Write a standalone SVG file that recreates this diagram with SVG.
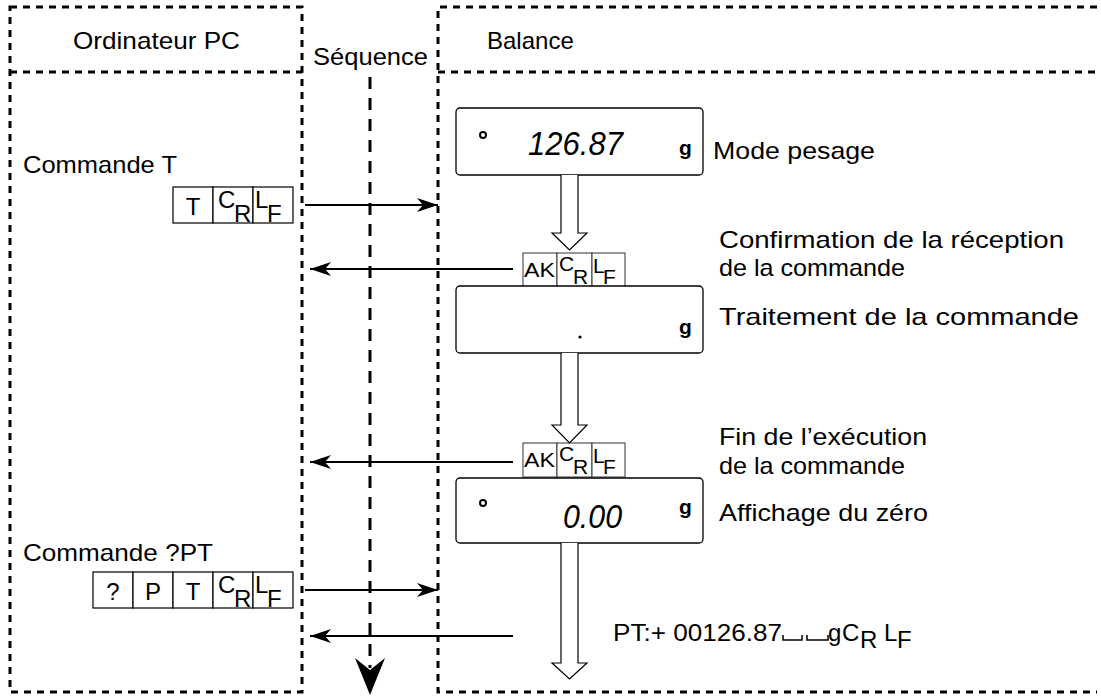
<svg xmlns="http://www.w3.org/2000/svg" width="1101" height="697" viewBox="0 0 1101 697">
<style>
.lbl{font-family:"Liberation Sans",Arial,sans-serif;font-size:24px;fill:#000}
.cell{fill:#fff;stroke:#000;stroke-width:1.2}
.cellg{fill:#fff;stroke:#333;stroke-width:1}
.ct{font-family:"Liberation Sans",Arial,sans-serif;font-size:24px;fill:#000}
.ca{font-family:"Liberation Sans",Arial,sans-serif;font-size:21px;fill:#000}
.frame{fill:none;stroke:#000;stroke-width:3;stroke-dasharray:7 6}
.seq{fill:none;stroke:#000;stroke-width:3;stroke-dasharray:12 9}
.disp{fill:#fff;stroke:#000;stroke-width:1.3}
.seg{font-family:"Liberation Sans Narrow","Liberation Sans",sans-serif;font-style:italic;font-size:34px;fill:#000}
.gl{font-family:"Liberation Sans",Arial,sans-serif;font-weight:bold;font-size:21px;fill:#000}
.hol{fill:#fff;stroke:#000;stroke-width:1.2}
.conn{stroke:#000;stroke-width:2;fill:none}
</style>
<defs>
<marker id="ah" markerUnits="userSpaceOnUse" markerWidth="22" markerHeight="16" refX="21" refY="7" orient="auto" viewBox="0 0 22 14">
<path d="M0,0 L21,7 L0,14 L6,7 Z" fill="#000"/>
</marker>
</defs>

<g id="pc-lane">
<path class="frame" d="M10,7 H302 V692 H10 Z"/>
<line class="frame" x1="10" y1="72" x2="302" y2="72"/>
<text class="lbl" x="73" y="49" textLength="167" lengthAdjust="spacingAndGlyphs">Ordinateur PC</text>
</g>

<g id="balance-lane">
<path class="frame" d="M1097,7 H438 V692 H1097"/>
<line class="frame" x1="438" y1="72" x2="1097" y2="72"/>
<text class="lbl" x="487" y="49">Balance</text>
</g>

<g id="sequence">
<text class="lbl" x="313" y="65" textLength="115" lengthAdjust="spacingAndGlyphs">Séquence</text>
<line class="seq" x1="370" y1="77" x2="370" y2="668"/>
<path d="M355,658 L370,695 L385,658 L370,670 Z" fill="#000"/>
</g>

<g id="cmd-t">
<text class="lbl" x="23" y="173" textLength="154" lengthAdjust="spacingAndGlyphs">Commande T</text>
<rect class="cell" x="173" y="187" width="40" height="36"/>
<rect class="cell" x="213" y="187" width="40" height="36"/>
<rect class="cell" x="253" y="187" width="40" height="36"/>
<text class="lbl" x="193" y="215" text-anchor="middle">T</text>
<text class="ct" x="218" y="208">C</text><text class="ct" x="234" y="222">R</text>
<text class="ct" x="255" y="208">L</text><text class="ct" x="267" y="222">F</text>
</g>

<g id="cmd-pt">
<text class="lbl" x="23" y="561" textLength="190" lengthAdjust="spacingAndGlyphs">Commande ?PT</text>
<rect class="cell" x="93" y="572" width="40" height="36"/>
<rect class="cell" x="133" y="572" width="40" height="36"/>
<rect class="cell" x="173" y="572" width="40" height="36"/>
<rect class="cell" x="213" y="572" width="40" height="36"/>
<rect class="cell" x="253" y="572" width="40" height="36"/>
<text class="lbl" x="113" y="600" text-anchor="middle">?</text>
<text class="lbl" x="153" y="600" text-anchor="middle">P</text>
<text class="lbl" x="193" y="600" text-anchor="middle">T</text>
<text class="ct" x="218" y="593">C</text><text class="ct" x="234" y="607">R</text>
<text class="ct" x="255" y="593">L</text><text class="ct" x="267" y="607">F</text>
</g>

<g id="display-1">
<rect class="disp" x="456" y="108" width="247" height="67" rx="4"/>
<circle cx="483" cy="135" r="3" fill="none" stroke="#000" stroke-width="2"/>
<text class="seg" x="528" y="155" textLength="95" lengthAdjust="spacingAndGlyphs">126.87</text>
<text class="gl" x="679" y="155">g</text>
<text class="lbl" x="713" y="159" textLength="162" lengthAdjust="spacingAndGlyphs">Mode pesage</text>
</g>

<g id="ack-1">
<rect class="cellg" x="523" y="253" width="34" height="34"/>
<rect class="cellg" x="557" y="253" width="35" height="34"/>
<rect class="cellg" x="592" y="253" width="33" height="34"/>
<text class="ca" x="524" y="277" textLength="31" lengthAdjust="spacingAndGlyphs">AK</text>
<text class="ca" x="559" y="271">C</text><text class="ca" x="573" y="284">R</text>
<text class="ca" x="593" y="273">L</text><text class="ca" x="603" y="284">F</text>
<text class="lbl" x="719" y="248" textLength="345" lengthAdjust="spacingAndGlyphs">Confirmation de la réception</text>
<text class="lbl" x="719" y="276" textLength="186" lengthAdjust="spacingAndGlyphs">de la commande</text>
</g>

<g id="display-2">
<rect class="disp" x="456" y="286" width="247" height="67" rx="4"/>
<circle cx="580" cy="337" r="1.6" fill="#000"/>
<text class="gl" x="679" y="334">g</text>
<text class="lbl" x="719" y="325" textLength="360" lengthAdjust="spacingAndGlyphs">Traitement de la commande</text>
</g>

<g id="ack-2">
<rect class="cellg" x="523" y="443" width="34" height="34"/>
<rect class="cellg" x="557" y="443" width="35" height="34"/>
<rect class="cellg" x="592" y="443" width="33" height="34"/>
<text class="ca" x="524" y="467" textLength="31" lengthAdjust="spacingAndGlyphs">AK</text>
<text class="ca" x="559" y="461">C</text><text class="ca" x="573" y="474">R</text>
<text class="ca" x="593" y="463">L</text><text class="ca" x="603" y="474">F</text>
<text class="lbl" x="719" y="445" textLength="208" lengthAdjust="spacingAndGlyphs">Fin de l’exécution</text>
<text class="lbl" x="719" y="474" textLength="186" lengthAdjust="spacingAndGlyphs">de la commande</text>
</g>

<g id="display-3">
<rect class="disp" x="456" y="478" width="247" height="65" rx="4"/>
<circle cx="483" cy="503" r="3" fill="none" stroke="#000" stroke-width="2"/>
<text class="seg" x="563" y="528" textLength="59" lengthAdjust="spacingAndGlyphs">0.00</text>
<text class="gl" x="679" y="514">g</text>
<text class="lbl" x="719" y="521" textLength="209" lengthAdjust="spacingAndGlyphs">Affichage du zéro</text>
</g>

<g id="response">
<text class="lbl" x="613" y="641" textLength="169" lengthAdjust="spacingAndGlyphs">PT:+ 00126.87</text>
<path d="M783,635 V640 H802 V635 M807,635 V640 H828 V635" fill="none" stroke="#000" stroke-width="1.5"/>
<text class="lbl" x="828" y="641">g</text>
<text class="lbl" x="842" y="641">C</text><text class="lbl" x="860" y="648">R</text>
<text class="lbl" x="884" y="641">L</text><text class="lbl" x="897" y="648">F</text>
</g>

<g id="connectors">
<path class="hol" d="M561,175 V233 H552 L569.5,250 L587,233 H578 V175"/>
<path class="hol" d="M561,353 V425 H552 L569.5,443 L587,425 H578 V353"/>
<path class="hol" d="M561,543 V663 H552 L569.5,679 L587,663 H578 V543"/>
<line class="conn" x1="305" y1="205" x2="438" y2="205" marker-end="url(#ah)"/>
<line class="conn" x1="513" y1="269" x2="310" y2="269" marker-end="url(#ah)"/>
<line class="conn" x1="513" y1="462" x2="310" y2="462" marker-end="url(#ah)"/>
<line class="conn" x1="305" y1="590" x2="438" y2="590" marker-end="url(#ah)"/>
<line class="conn" x1="513" y1="636" x2="310" y2="636" marker-end="url(#ah)"/>
</g>
</svg>
